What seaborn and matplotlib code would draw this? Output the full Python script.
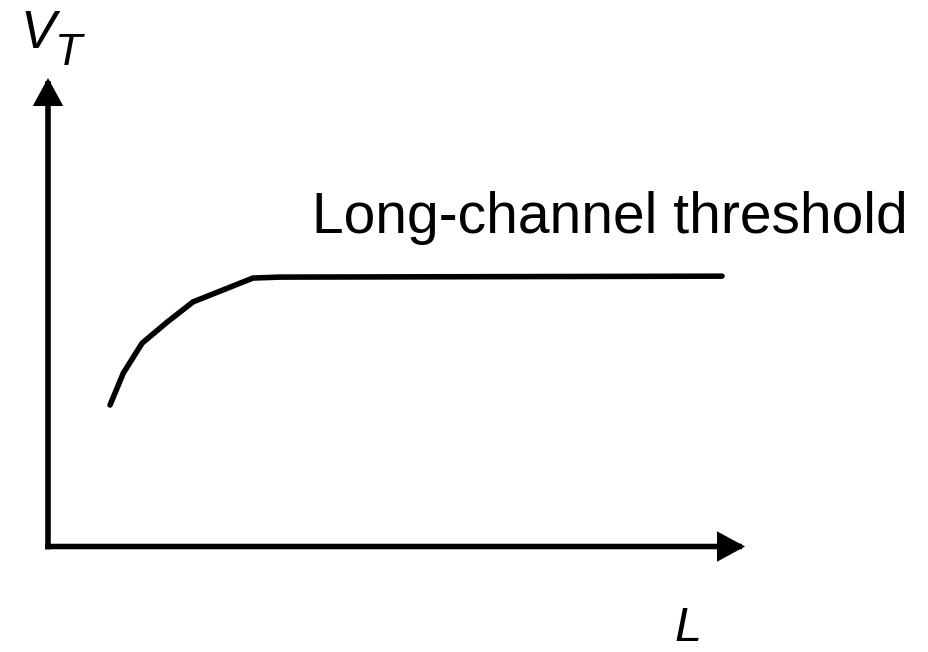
import matplotlib
matplotlib.use("Agg")
import matplotlib.pyplot as plt
import seaborn as sns
import pandas as pd

# Threshold voltage vs. channel length (arbitrary units, axes run 0..100)
channel_length = [8.9, 10.8, 13.5, 17.1, 20.8, 29.4, 33.3, 96.7]
threshold_v = [30.2, 37.0, 43.4, 47.9, 52.2, 57.3, 57.5, 57.7]

curve_label = "Long-channel threshold"
y_label_main = "V"
y_label_sub = "T"
x_label = "L"

sns.set_theme(style="white")
plt.rcParams["font.family"] = ["Liberation Sans", "DejaVu Sans"]

df = pd.DataFrame({"L": channel_length, "VT": threshold_v})

fig = plt.figure(figsize=(9.29, 6.52), dpi=100)
fig.patch.set_facecolor("white")
ax = fig.add_axes([0.05167, 0.1618, 0.7503, 0.7186])
ax.set_facecolor("white")

sns.lineplot(data=df, x="L", y="VT", ax=ax, color="black", linewidth=4,
             sort=False, estimator=None)

ax.set_xlim(0, 100)
ax.set_ylim(0, 100)
for s in ax.spines.values():
    s.set_visible(False)
ax.set_xticks([])
ax.set_yticks([])
ax.set_xlabel("")
ax.set_ylabel("")

# axes drawn as arrows from the origin
arrow_kw = dict(arrowstyle="-|>,head_length=0.7,head_width=0.38",
                color="black", lw=4, mutation_scale=20,
                shrinkA=0, shrinkB=0, joinstyle="miter", capstyle="projecting")
ax.annotate("", xy=(100, 0), xytext=(0, 0), arrowprops=arrow_kw,
            annotation_clip=False)
ax.annotate("", xy=(0, 100), xytext=(0, 0), arrowprops=arrow_kw,
            annotation_clip=False)

ax.text(37.9, 66.9, curve_label, fontsize=41, color="black",
        ha="left", va="baseline")
ax.text(-4.0, 106.4, y_label_main, fontsize=38, style="italic",
        color="black", ha="left", va="baseline", clip_on=False)
ax.text(1.0, 102.8, y_label_sub, fontsize=32, style="italic",
        color="black", ha="left", va="baseline", clip_on=False)
fig.text(675 / 929, 1 / 652, x_label, fontsize=35, style="italic",
         color="black", ha="left", va="bottom")

fig.savefig("out.png", dpi=100, facecolor="white")
